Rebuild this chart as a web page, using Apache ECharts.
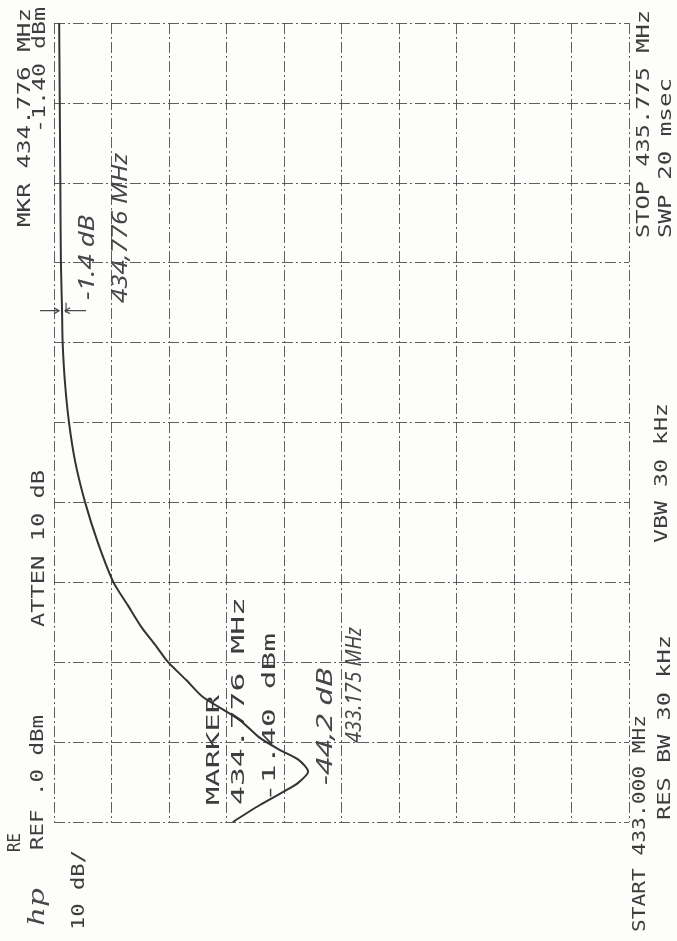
<!DOCTYPE html>
<html>
<head>
<meta charset="UTF-8">
<title>HP spectrum plot</title>
<script src="https://cdn.jsdelivr.net/npm/echarts@6/dist/echarts.min.js"></script>
<style>
body{margin:0;background:#fdfdfb;}
#chart{width:677px;height:941px;}
</style>
</head>
<body>
<div id="chart"></div>
<script type="text/javascript">
// trace (frequency in MHz, level in dBm)
var freqMHz=[433.000,433.059,433.104,433.135,433.175,433.215,433.250,433.292,433.354,433.434,433.493,
	433.556,433.615,433.674,433.754,433.834,433.972,434.111,434.250,434.389,434.528,434.667,434.776,
	434.945,435.223,435.501,435.775];
var levelDb=[-31.1,-35.8,-39.8,-42.4,-44.2,-42.6,-39.3,-35.8,-32.3,-25.9,-23.0,
	-19.8,-17.6,-15.3,-12.8,-10.3,-7.6,-5.4,-3.7,-2.6,-1.9,-1.5,-1.4,
	-1.2,-1.1,-1.0,-0.9];
var startMHz=433.000, stopMHz=435.775;
var refDb=0, dbPerDiv=10;
var markerMHz=434.776, markerDb=-1.4;

// printed / handwritten labels, all rotated 90deg (read bottom to top)
// [text, centre x, bottom y, top y, kind]
var labels=[
	['MKR 434.776 MHz',25,227,8,'p'],
	['-1.40 dBm',40,133,7,'p'],
	['ATTEN 10 dB',39,627,470,'p'],
	['RE',15,852,833,'p'],
	['REF .0 dBm',38,850,715,'p'],
	['10 dB/',79,930,850,'p'],
	['START 433.000 MHz',640,932,715,'p'],
	['RES BW 30 kHz',665,820,635,'p'],
	['VBW 30 kHz',662,543,403,'p'],
	['STOP 435.775 MHz',644,238,10,'p'],
	['SWP 20 msec',666,238,78,'p'],
	['MARKER',214,805,695,'p'],
	['434.776 MHz',239,805,597,'p'],
	['-1.40 dBm',270,802,633,'p'],
	['-1.4 dB',88,300,215,'h'],
	['434,776 MHz',121,303,153,'h'],
	['-44,2 dB',326,785,668,'h'],
	['433.175 MHz',355,743,627,'h'],
	['hp',38,926,888,'l']
];

var fonts={
	p:'18px "DejaVu Sans Mono"',
	h:'italic 21px "Noto Sans"',
	l:'italic 22px "DejaVu Serif"'
};

var measure=document.createElement('canvas').getContext('2d');
function textGraphic(l){
	measure.font=fonts[l[4]];
	var w=measure.measureText(l[0]).width;
	return {
		type:'text',
		x:l[1],
		y:l[2],
		rotation:Math.PI/2,
		scaleX:(l[2]-l[3])/w,
		silent:true,
		style:{
			text:l[0],
			font:fonts[l[4]],
			fill:l[4]=='p'?'#3d3d3d':'#474747',
			align:'left',
			verticalAlign:'middle'
		}
	};
}

var gridStyle={color:'#444',width:1,type:[11,3,2,3],opacity:0.85};

var chart=echarts.init(document.getElementById('chart'));
var traceData=[];
for(var i=0;i<freqMHz.length;i++){
	traceData.push([levelDb[i],freqMHz[i]]);
}

var option={
	backgroundColor:'#fdfdfb',
	animation:false,
	grid:{left:54,top:23,width:575,height:799},
	xAxis:{
		type:'value',
		min:refDb-10*dbPerDiv,
		max:refDb,
		interval:dbPerDiv,
		inverse:true,
		axisLine:{show:false},
		axisTick:{show:false},
		axisLabel:{show:false},
		splitLine:{show:true,lineStyle:gridStyle}
	},
	yAxis:[{
		type:'value',
		min:startMHz,
		max:stopMHz,
		show:false,
		splitLine:{show:false}
	},{
		// 10 frequency divisions, only used for the graticule
		type:'value',
		min:0,
		max:10,
		interval:1,
		position:'right',
		axisLine:{show:false},
		axisTick:{show:false},
		axisLabel:{show:false},
		splitLine:{show:true,lineStyle:gridStyle}
	}],
	series:[{
		type:'line',
		xAxisIndex:0,
		yAxisIndex:0,
		data:traceData,
		showSymbol:false,
		smooth:0.25,
		lineStyle:{color:'#333',width:2},
		z:5
	}]
};
chart.setOption(option);

// handwritten arrows pointing at the marker
var mp=chart.convertToPixel({xAxisIndex:0,yAxisIndex:0},[markerDb,markerMHz]);
var arrowStyle={stroke:'#444',lineWidth:1.2,fill:null};
chart.setOption({graphic:labels.map(textGraphic).concat([
	{type:'polyline',silent:true,shape:{points:[[mp[0]-22,mp[1]],[mp[0]-3,mp[1]]]},style:arrowStyle},
	{type:'polyline',silent:true,shape:{points:[[mp[0]-8,mp[1]-3],[mp[0]-3,mp[1]],[mp[0]-8,mp[1]+3]]},style:arrowStyle},
	{type:'polyline',silent:true,shape:{points:[[mp[0]+24,mp[1]],[mp[0]+3,mp[1]]]},style:arrowStyle},
	{type:'polyline',silent:true,shape:{points:[[mp[0]+8,mp[1]-3],[mp[0]+3,mp[1]],[mp[0]+8,mp[1]+3]]},style:arrowStyle},
	{type:'polyline',silent:true,shape:{points:[[mp[0]+4,mp[1]-8],[mp[0]+4,mp[1]+2]]},style:arrowStyle}
])});
</script>
</body>
</html>
